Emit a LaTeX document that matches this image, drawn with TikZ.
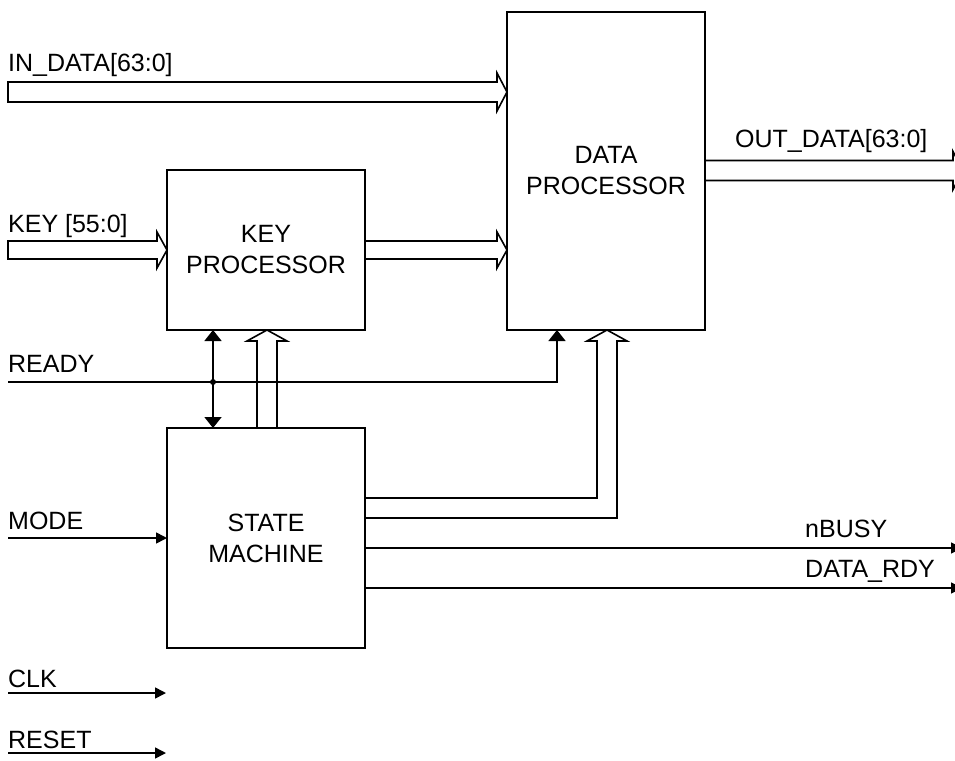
\documentclass[tikz,border=0pt]{standalone}
\usepackage{fontspec}
\setmainfont{Liberation Sans}
\usetikzlibrary{arrows.meta,calc}
\begin{document}
\begin{tikzpicture}[x=1pt,y=-1pt,
  every node/.style={font=\fontsize{25}{31}\selectfont},
  wire/.style={line width=1.6pt, line join=miter},
  blk/.style={draw, line width=1.6pt, inner sep=0pt, outer sep=0pt, align=center, minimum width=198pt},
  lbl/.style={anchor=base west, inner sep=0pt},
  sig/.style={wire, -{Triangle[length=11pt,width=11pt]}},
  vhead/.tip={Triangle[length=11pt,width=17pt]},
  ]
\useasboundingbox (0,0) rectangle (955,760);

% blocks
\node[blk, minimum height=318pt] (dp) at (606,171) {DATA\\PROCESSOR};
\node[blk, minimum height=160pt] (kp) at (266,250) {KEY\\PROCESSOR};
\node[blk, minimum height=220pt] (sm) at (266,538) {STATE\\MACHINE};

% free ends
\coordinate (indata) at (8,92);
\coordinate (keyin) at (8,250);
\coordinate (outdata) at (963,170.5);
\coordinate (ready) at (8,382);
\coordinate (mode) at (8,538);
\coordinate (clk) at (8,693);
\coordinate (clkend) at (166,693);
\coordinate (reset) at (8,753);
\coordinate (resetend) at (166,753);
\coordinate (nbusy) at (962,548);
\coordinate (datardy) at (962,588);

% IN_DATA bus
\coordinate (t1) at (dp.west |- indata);
\draw[wire] ($(indata)+(0,-10)$) -- ($(t1)+(-10,-10)$) -- ++(0,-9) -- (t1)
  -- ($(t1)+(-10,19)$) -- ++(0,-9) -- ($(indata)+(0,10)$) -- cycle;

% KEY bus
\coordinate (t2) at (kp.west |- keyin);
\draw[wire] ($(keyin)+(0,-9)$) -- ($(t2)+(-10,-9)$) -- ++(0,-9) -- (t2)
  -- ($(t2)+(-10,18)$) -- ++(0,-9) -- ($(keyin)+(0,9)$) -- cycle;

% KEY PROCESSOR -> DATA PROCESSOR bus
\coordinate (t3) at (dp.west |- kp.east);
\draw[wire] ($(kp.east)+(0,-9)$) -- ($(t3)+(-10,-9)$) -- ++(0,-9) -- (t3)
  -- ($(t3)+(-10,18)$) -- ++(0,-9) -- ($(kp.east)+(0,9)$);

% OUT_DATA bus
\coordinate (s4) at (dp.east |- outdata);
\draw[wire] ($(s4)+(0,-10)$) -- ($(outdata)+(-10,-10)$) -- ++(0,-9) -- (outdata)
  -- ($(outdata)+(-10,19)$) -- ++(0,-9) -- ($(s4)+(0,10)$);

% STATE MACHINE -> KEY PROCESSOR bus
\coordinate (t5) at ($(kp.south)+(1,0)$);
\draw[wire] ($(t5 |- sm.north)+(-10,0)$) -- ($(t5)+(-10,11)$) -- ++(-10,0) -- (t5)
  -- ($(t5)+(20,11)$) -- ++(-10,0) -- ($(t5 |- sm.north)+(10,0)$);

% STATE MACHINE -> DATA PROCESSOR bus
\coordinate (t6) at ($(dp.south)+(1,0)$);
\draw[wire] (sm.east |- 0,498) -- ($(t6)+(-10,168)$) -- ($(t6)+(-10,11)$) -- ++(-10,0) -- (t6)
  -- ($(t6)+(20,11)$) -- ++(-10,0) -- ($(t6)+(10,188)$) -- (sm.east |- 0,518);

% READY
\draw[wire, -vhead] (ready) -| ($(dp.south west)+(50,0)$);
\draw[wire, vhead-vhead] ($(kp.south west)+(46,0)$) -- ($(sm.north west)+(46,0)$);
\node[circle, fill, inner sep=0pt, minimum size=6pt] (junc) at ($(ready -| kp.south west)+(46,0)$) {};

% single signals
\draw[sig] (mode) -- (sm.west);
\draw[sig] (clk) -- (clkend);
\draw[sig] (reset) -- (resetend);
\draw[sig] (sm.east |- nbusy) -- (nbusy);
\draw[sig] (sm.east |- datardy) -- (datardy);

% labels
\node[lbl] (lin) at (8,71) {IN\_DATA[63:0]};
\node[lbl] (lkey) at (8,232) {KEY [55:0]};
\node[lbl] (lout) at (735,147) {OUT\_DATA[63:0]};
\node[lbl] (lrdy) at (8,372) {READY};
\node[lbl] (lmode) at (8,529) {MODE};
\node[lbl] (lbusy) at (805,537) {nBUSY};
\node[lbl] (ldr) at (805,577) {DATA\_RDY};
\node[lbl] (lclk) at (8,687) {CLK};
\node[lbl] (lrst) at (8,748) {RESET};
\end{tikzpicture}
\end{document}
